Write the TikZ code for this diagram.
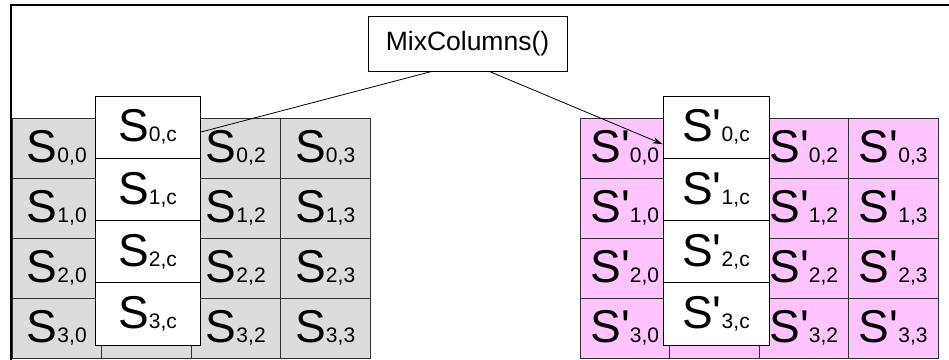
\documentclass[tikz,border=0pt]{standalone}
\usepackage{fontspec}
\setmainfont{Liberation Sans}
\usetikzlibrary{arrows.meta,calc}
\definecolor{cellgray}{HTML}{DCDCDC}
\definecolor{cellpink}{HTML}{FFC4FF}
\definecolor{gridline}{HTML}{303030}
\newcommand{\bigS}{\fontsize{46}{46}\selectfont}
\newcommand{\subidx}[1]{{\fontsize{21}{21}\selectfont #1}}
\newcommand{\stateS}[1]{\bigS S\subidx{#1}}
\newcommand{\stateP}[1]{\bigS S\textquotesingle\subidx{#1}}

\begin{document}
\begin{tikzpicture}[x=1pt, y=-1pt,
  statecell/.style={draw=gridline, line width=1pt, minimum width=89.5pt, minimum height=60pt, inner sep=0pt},
  incell/.style={statecell, fill=cellgray},
  outcell/.style={statecell, fill=cellpink},
  colcell/.style={draw=black, line width=1pt, fill=white, minimum width=105pt, minimum height=62.25pt, inner sep=0pt},
  opbox/.style={draw=black, line width=1pt, fill=white, minimum width=199pt, minimum height=55pt, font=\fontsize{26.5}{26.5}\selectfont},
  arrow/.style={-{Stealth[length=3.5mm, width=2.2mm]}, draw=black, line width=0.8pt}
]
\useasboundingbox (0,0) rectangle (949,359);
% outer frame, cut off by the page
\draw[line width=1.5pt] (11,370) -- (11,5) -- (960,5);
% state before and after
\foreach \r in {0,...,3} {
  \foreach \c in {0,2,3} {
    \node[incell] (s\r\c) at (56.75+89.5*\c, 148+60*\r) {\stateS{\r,\c}};
    \node[outcell] (t\r\c) at (624.75+89.5*\c, 148+60*\r) {\stateP{\r,\c}};
  }
  \node[incell] (s\r1) at (146.25, 148+60*\r) {};
  \node[outcell] (t\r1) at (714.25, 148+60*\r) {};
}
% the column being mixed
\foreach \r in {0,...,3} {
  \node[colcell] (a\r) at (147.5, 127.125+62.25*\r) {\stateS{\r,c}};
  \node[colcell, minimum width=106pt] (b\r) at (716, 127.125+62.25*\r) {\stateP{\r,c}};
}
\node[opbox] (mix) at (467.5,43.5) {MixColumns()};
\draw[line width=0.8pt] ($(mix.south west)!0.32!(mix.south east)$) -- ([yshift=-5pt]a0.east);
\draw[arrow] ($(mix.south west)!0.61!(mix.south east)$) -- ([yshift=-17pt]b0.west);
\end{tikzpicture}
\end{document}
